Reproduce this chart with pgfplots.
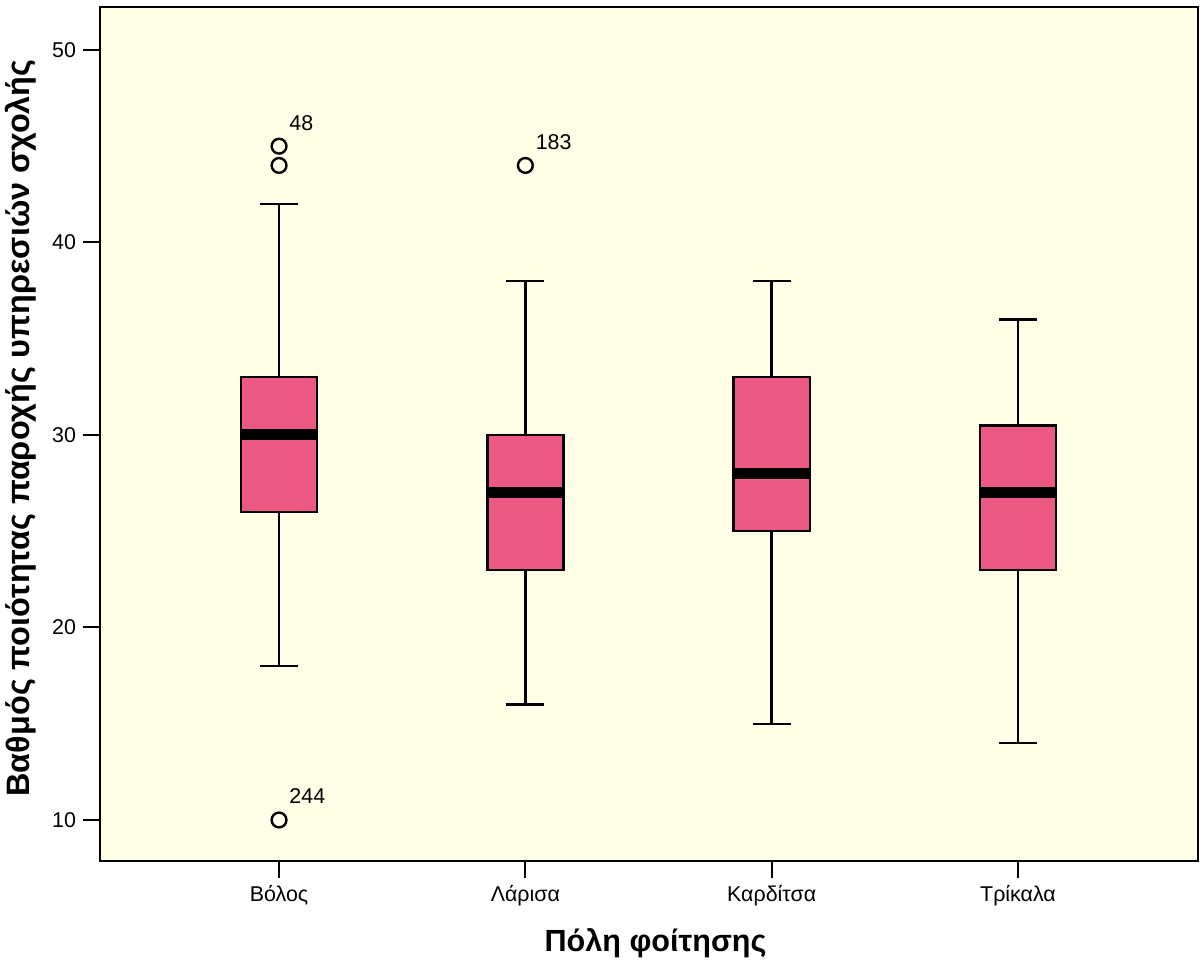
\documentclass[border=0pt]{standalone}
\usepackage{pgfplots}
\pgfplotsset{compat=1.18}
\usepgfplotslibrary{statistics}
\usepackage{fontspec}
\setmainfont{Liberation Sans}
\definecolor{bgyellow}{RGB}{255,255,232}
\definecolor{boxpink}{RGB}{236,90,132}
\begin{document}
\begin{tikzpicture}
\begin{axis}[
  scale only axis,
  width=549pt, height=427pt,
  xmin=0.273, xmax=4.731,
  ymin=7.87, ymax=52.23,
  xtick={1,2,3,4},
  xticklabels={Βόλος,Λάρισα,Καρδίτσα,Τρίκαλα},
  ytick={10,20,30,40,50},
  tick align=outside,
  major tick length=8.5pt,
  tick style={black, line width=1pt},
  axis line style={line width=0.8pt},
  xtick pos=bottom, ytick pos=left,
  tick label style={font=\fontsize{10.7}{12}\selectfont},
  /pgf/number format/assume math mode=true,
  axis background/.style={fill=bgyellow},
  ylabel={\fontsize{16.2}{19}\selectfont\bfseries Βαθμός ποιότητας παροχής υπηρεσιών σχολής},
  xlabel={\fontsize{15.3}{18}\selectfont\bfseries Πόλη φοίτησης},
  ylabel style={at={(axis description cs:-0.072,0.507)}, anchor=center},
  xlabel style={at={(axis description cs:0.506,-0.096)}, anchor=center},
  boxplot/draw direction=y,
  boxplot/box extend=0.309,
  boxplot/whisker extend=0.154,
  boxplot/every median/.style={line width=5.5pt},
  boxplot/every box/.style={line width=1.2pt},
  boxplot/every whisker/.style={line width=1.2pt},
  clip=false,
]
\addplot+[boxplot prepared={lower whisker=18, lower quartile=26, median=30, upper quartile=33, upper whisker=42, draw position=1},
  solid, draw=black, fill=boxpink, mark=o, mark size=3.7pt, mark options={black, line width=1.2pt, solid}]
  table[row sep=\\, y index=0]{45\\44\\10\\};
\addplot+[boxplot prepared={lower whisker=16, lower quartile=23, median=27, upper quartile=30, upper whisker=38, draw position=2},
  solid, draw=black, fill=boxpink, mark=o, mark size=3.7pt, mark options={black, line width=1.2pt, solid}]
  table[row sep=\\, y index=0]{44\\};
\addplot+[boxplot prepared={lower whisker=15, lower quartile=25, median=28, upper quartile=33, upper whisker=38, draw position=3},
  solid, draw=black, fill=boxpink, mark=none]
  coordinates {};
\addplot+[boxplot prepared={lower whisker=14, lower quartile=23, median=27, upper quartile=30.5, upper whisker=36, draw position=4},
  solid, draw=black, fill=boxpink, mark=none]
  coordinates {};
\node[anchor=base west, font=\fontsize{10.7}{12}\selectfont, inner sep=0pt] at ([xshift=5pt,yshift=8pt]axis cs:1,45) {48};
\node[anchor=base west, font=\fontsize{10.7}{12}\selectfont, inner sep=0pt] at ([xshift=5pt,yshift=8pt]axis cs:2,44) {183};
\node[anchor=base west, font=\fontsize{10.7}{12}\selectfont, inner sep=0pt] at ([xshift=5pt,yshift=8pt]axis cs:1,10) {244};
\end{axis}
\pgfresetboundingbox
\path ([shift={(-50pt,-54pt)}]current axis.south west) rectangle ([shift={(2.5pt,3.5pt)}]current axis.north east);
\end{tikzpicture}
\end{document}
